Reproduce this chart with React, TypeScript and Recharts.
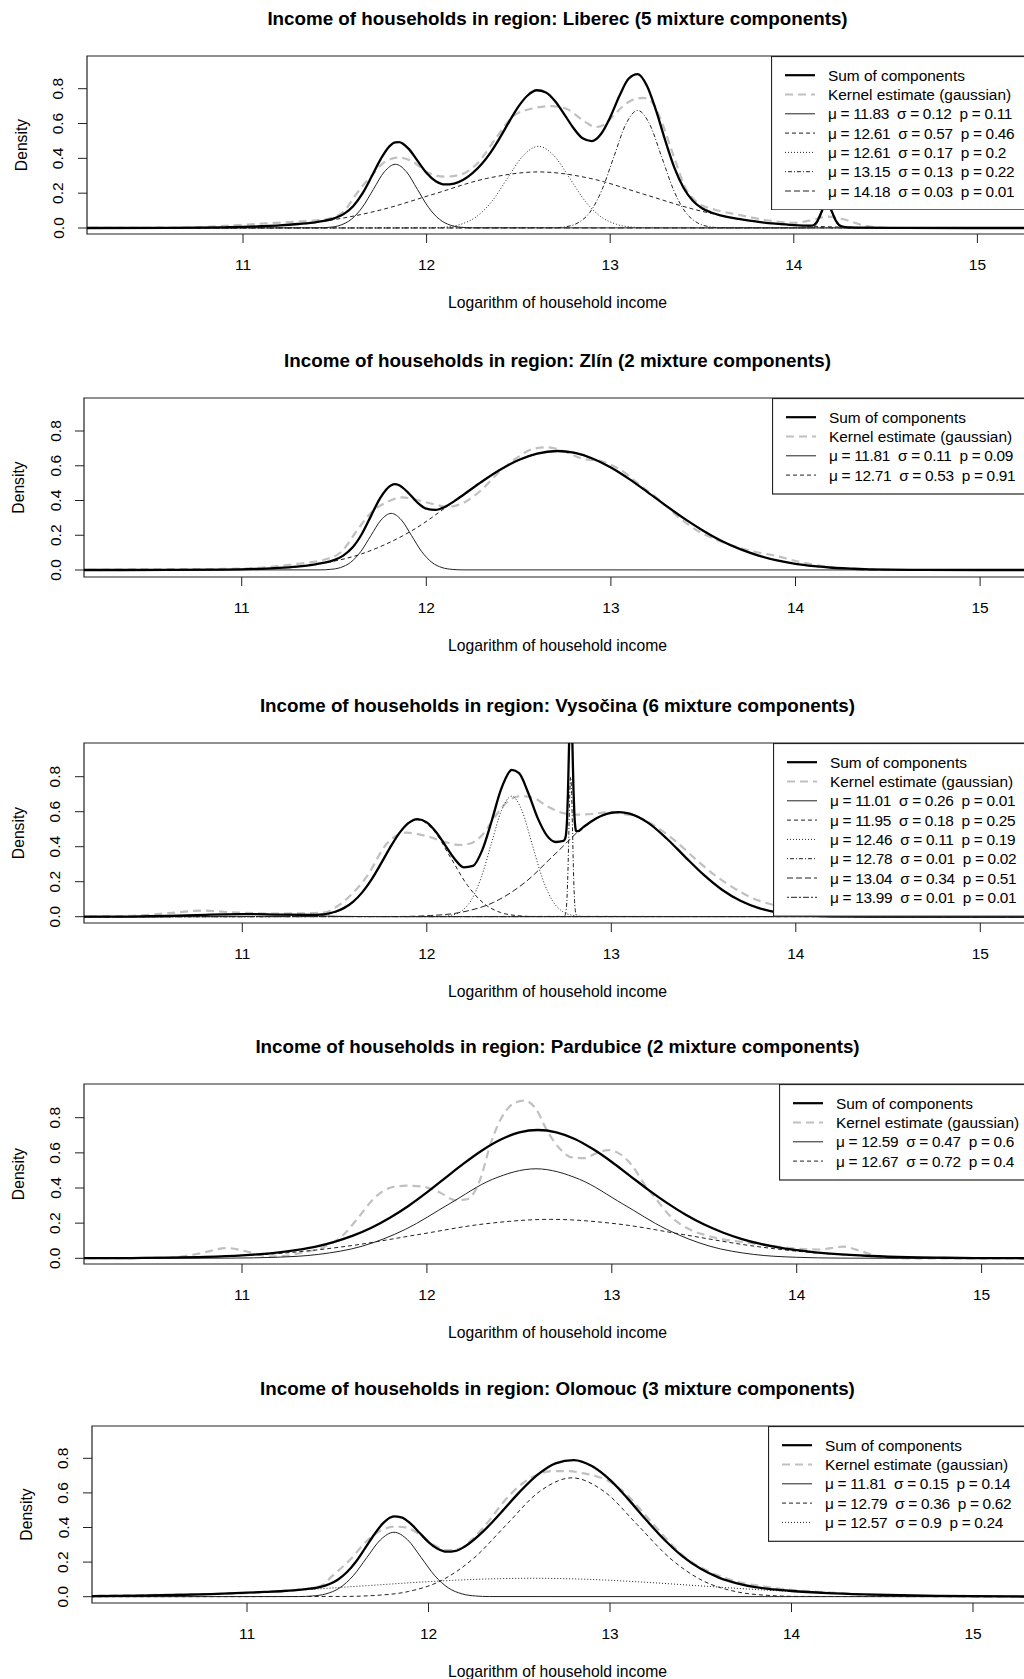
import React from 'react';
import { LineChart, Line, XAxis, YAxis, ReferenceArea, Legend } from 'recharts';

// ---------- Liberec ----------
const liberecMu = [11.83, 12.61, 12.61, 13.15, 14.18];
const liberecSigma = [0.12, 0.57, 0.17, 0.13, 0.03];
const liberecP = [0.11, 0.46, 0.2, 0.22, 0.01];
const liberecSumX = [10.1, 10.6, 10.9, 11.0, 11.1, 11.2, 11.3, 11.4, 11.5, 11.55, 11.6, 11.65, 11.7, 11.75, 11.8, 11.83, 11.85, 11.9, 11.95, 12.0, 12.05, 12.1, 12.15, 12.2, 12.25, 12.3, 12.35, 12.4, 12.45, 12.5, 12.55, 12.6, 12.65, 12.7, 12.75, 12.8, 12.85, 12.9, 12.95, 13.0, 13.05, 13.1, 13.15, 13.2, 13.25, 13.3, 13.35, 13.4, 13.45, 13.5, 13.55, 13.6, 13.65, 13.7, 13.8, 13.9, 14.0, 14.1, 14.13, 14.15, 14.165, 14.18, 14.195, 14.21, 14.23, 14.26, 14.3, 14.4, 14.6, 15.0, 16.0];
const liberecSumY = [0, 0.001, 0.004, 0.006, 0.010, 0.015, 0.023, 0.034, 0.057, 0.081, 0.125, 0.197, 0.294, 0.396, 0.472, 0.492, 0.493, 0.457, 0.387, 0.316, 0.269, 0.250, 0.255, 0.277, 0.315, 0.367, 0.436, 0.520, 0.611, 0.697, 0.761, 0.791, 0.778, 0.728, 0.653, 0.574, 0.515, 0.499, 0.540, 0.636, 0.758, 0.857, 0.884, 0.817, 0.674, 0.502, 0.345, 0.230, 0.156, 0.113, 0.089, 0.073, 0.061, 0.052, 0.036, 0.025, 0.017, 0.014, 0.043, 0.090, 0.126, 0.141, 0.125, 0.088, 0.040, 0.010, 0.004, 0.002, 0.001, 0, 0];
const liberecKdeX = [10.1, 10.7, 10.9, 11.1, 11.3, 11.45, 11.55, 11.6, 11.65, 11.7, 11.78, 11.85, 11.93, 12.0, 12.1, 12.18, 12.28, 12.38, 12.47, 12.57, 12.68, 12.76, 12.87, 12.92, 12.97, 13.03, 13.11, 13.18, 13.23, 13.28, 13.35, 13.41, 13.47, 13.57, 13.68, 13.78, 13.9, 14.0, 14.1, 14.18, 14.27, 14.38, 14.47, 14.6, 16.0];
const liberecKdeY = [0, 0.003, 0.012, 0.025, 0.037, 0.05, 0.095, 0.17, 0.24, 0.30, 0.385, 0.404, 0.378, 0.322, 0.295, 0.305, 0.375, 0.52, 0.64, 0.685, 0.70, 0.685, 0.605, 0.58, 0.595, 0.66, 0.73, 0.747, 0.72, 0.61, 0.40, 0.23, 0.15, 0.105, 0.08, 0.058, 0.038, 0.03, 0.045, 0.065, 0.05, 0.015, 0.002, 0, 0];
const liberecC1X = [10.1, 11.41, 11.47, 11.53, 11.59, 11.65, 11.71, 11.77, 11.83, 11.89, 11.95, 12.01, 12.07, 12.13, 12.19, 12.25, 16];
const liberecC1Y = [0, 0.001, 0.004, 0.016, 0.050, 0.119, 0.222, 0.323, 0.366, 0.323, 0.222, 0.119, 0.050, 0.016, 0.004, 0.001, 0];
const liberecC2X = [10.1, 10.615, 10.9, 11.185, 11.47, 11.755, 12.04, 12.325, 12.61, 12.895, 13.18, 13.465, 13.75, 14.035, 14.32, 14.605, 16];
const liberecC2Y = [0, 0.001, 0.004, 0.014, 0.044, 0.105, 0.195, 0.284, 0.322, 0.284, 0.195, 0.105, 0.044, 0.014, 0.004, 0.001, 0];
const liberecC3X = [10.1, 12.015, 12.1, 12.185, 12.27, 12.355, 12.44, 12.525, 12.61, 12.695, 12.78, 12.865, 12.95, 13.035, 13.12, 13.205, 16];
const liberecC3Y = [0, 0.001, 0.005, 0.021, 0.064, 0.152, 0.285, 0.414, 0.469, 0.414, 0.285, 0.152, 0.064, 0.021, 0.005, 0.001, 0];
const liberecC4X = [10.1, 12.695, 12.76, 12.825, 12.89, 12.955, 13.02, 13.085, 13.15, 13.215, 13.28, 13.345, 13.41, 13.475, 13.54, 13.605, 16];
const liberecC4Y = [0, 0.0015, 0.0075, 0.030, 0.091, 0.219, 0.409, 0.596, 0.675, 0.596, 0.409, 0.219, 0.091, 0.030, 0.0075, 0.0015, 0];
const liberecC5X = [10.1, 14.075, 14.09, 14.105, 14.12, 14.135, 14.15, 14.165, 14.18, 14.195, 14.21, 14.225, 14.24, 14.255, 14.27, 14.285, 16];
const liberecC5Y = [0, 0.0003, 0.0015, 0.006, 0.018, 0.043, 0.081, 0.117, 0.133, 0.117, 0.081, 0.043, 0.018, 0.006, 0.0015, 0.0003, 0];

// ---------- Zlín ----------
const zlinMu = [11.81, 12.71];
const zlinSigma = [0.11, 0.53];
const zlinP = [0.09, 0.91];
const zlinSumX = [10.1, 10.6, 10.9, 11.1, 11.2, 11.3, 11.4, 11.45, 11.5, 11.55, 11.6, 11.65, 11.7, 11.75, 11.81, 11.83, 11.85, 11.9, 11.95, 12.0, 12.05, 12.1, 12.15, 12.2, 12.3, 12.4, 12.5, 12.6, 12.71, 12.8, 12.9, 13.0, 13.1, 13.2, 13.3, 13.4, 13.5, 13.6, 13.7, 13.8, 13.9, 14.0, 14.1, 14.2, 14.3, 14.4, 14.5, 14.7, 15.0, 16.0];
const zlinSumY = [0, 0.0002, 0.002, 0.007, 0.012, 0.020, 0.033, 0.042, 0.057, 0.083, 0.129, 0.206, 0.310, 0.414, 0.488, 0.494, 0.489, 0.447, 0.390, 0.353, 0.346, 0.363, 0.395, 0.432, 0.508, 0.577, 0.633, 0.670, 0.685, 0.675, 0.642, 0.590, 0.523, 0.447, 0.369, 0.294, 0.226, 0.167, 0.120, 0.083, 0.055, 0.035, 0.022, 0.013, 0.008, 0.004, 0.002, 0.0006, 0, 0];
const zlinKdeX = [10.1, 10.5, 10.9, 11.1, 11.3, 11.45, 11.54, 11.62, 11.70, 11.785, 11.87, 11.95, 12.035, 12.12, 12.2, 12.3, 12.39, 12.49, 12.59, 12.66, 12.74, 12.84, 12.95, 13.05, 13.15, 13.26, 13.36, 13.46, 13.57, 13.67, 13.78, 13.9, 14.0, 14.1, 14.2, 14.3, 14.4, 14.6, 16.0];
const zlinKdeY = [0, 0.004, 0.006, 0.013, 0.035, 0.06, 0.105, 0.22, 0.33, 0.39, 0.418, 0.403, 0.38, 0.364, 0.386, 0.462, 0.558, 0.645, 0.70, 0.706, 0.685, 0.642, 0.625, 0.578, 0.495, 0.405, 0.31, 0.232, 0.175, 0.136, 0.105, 0.08, 0.052, 0.03, 0.015, 0.005, 0.001, 0, 0];
const zlinC1X = [10.1, 11.425, 11.48, 11.535, 11.59, 11.645, 11.70, 11.755, 11.81, 11.865, 11.92, 11.975, 12.03, 12.085, 12.14, 12.195, 16];
const zlinC1Y = [0, 0.0007, 0.0036, 0.014, 0.044, 0.106, 0.198, 0.288, 0.326, 0.288, 0.198, 0.106, 0.044, 0.014, 0.0036, 0.0007, 0];
const zlinC2X = [10.1, 10.59, 10.855, 11.12, 11.385, 11.65, 11.915, 12.18, 12.445, 12.71, 12.975, 13.24, 13.505, 13.77, 14.035, 14.30, 14.565, 14.83, 16];
const zlinC2Y = [0, 0.0002, 0.0015, 0.0076, 0.030, 0.093, 0.222, 0.416, 0.605, 0.685, 0.605, 0.416, 0.222, 0.093, 0.030, 0.0076, 0.0015, 0.0002, 0];

// ---------- Vysočina ----------
const vysocinaMu = [11.01, 11.95, 12.46, 12.78, 13.04, 13.99];
const vysocinaSigma = [0.26, 0.18, 0.11, 0.01, 0.34, 0.01];
const vysocinaP = [0.01, 0.25, 0.19, 0.02, 0.51, 0.01];
const vysocinaSumX = [10.1, 10.4, 10.6, 10.8, 11.0, 11.2, 11.4, 11.5, 11.55, 11.6, 11.65, 11.7, 11.75, 11.8, 11.85, 11.9, 11.95, 12.0, 12.05, 12.1, 12.15, 12.2, 12.25, 12.3, 12.35, 12.4, 12.45, 12.46, 12.5, 12.55, 12.6, 12.65, 12.7, 12.74, 12.75, 12.755, 12.76, 12.765, 12.77, 12.775, 12.78, 12.785, 12.79, 12.795, 12.8, 12.805, 12.81, 12.82, 12.85, 12.9, 12.95, 13.0, 13.04, 13.1, 13.2, 13.3, 13.4, 13.5, 13.6, 13.7, 13.8, 13.9, 13.95, 13.97, 13.975, 13.98, 13.985, 13.99, 13.995, 14.0, 14.005, 14.01, 14.03, 14.1, 14.2, 14.4, 15.0, 16.0];
const vysocinaSumY = [0, 0.001, 0.004, 0.011, 0.015, 0.012, 0.010, 0.027, 0.049, 0.085, 0.139, 0.212, 0.300, 0.393, 0.476, 0.535, 0.558, 0.539, 0.484, 0.408, 0.331, 0.282, 0.290, 0.379, 0.541, 0.720, 0.831, 0.839, 0.820, 0.707, 0.566, 0.465, 0.427, 0.433, 0.446, 0.475, 0.551, 0.705, 0.934, 1.157, 1.255, 1.165, 0.948, 0.727, 0.580, 0.511, 0.489, 0.489, 0.513, 0.550, 0.578, 0.594, 0.598, 0.589, 0.536, 0.447, 0.342, 0.240, 0.154, 0.091, 0.049, 0.024, 0.017, 0.068, 0.143, 0.255, 0.365, 0.411, 0.364, 0.253, 0.140, 0.064, 0.009, 0.005, 0.002, 0.0002, 0, 0];
const vysocinaKdeX = [10.1, 10.4, 10.6, 10.78, 10.95, 11.15, 11.35, 11.45, 11.5, 11.59, 11.675, 11.785, 11.89, 12.0, 12.09, 12.18, 12.24, 12.31, 12.37, 12.45, 12.51, 12.58, 12.655, 12.74, 12.81, 12.895, 12.98, 13.05, 13.135, 13.24, 13.35, 13.46, 13.57, 13.68, 13.79, 13.87, 14.0, 14.2, 14.5, 16.0];
const vysocinaKdeY = [0, 0.005, 0.02, 0.035, 0.025, 0.018, 0.02, 0.025, 0.05, 0.125, 0.23, 0.42, 0.48, 0.46, 0.43, 0.41, 0.42, 0.478, 0.573, 0.668, 0.69, 0.678, 0.63, 0.592, 0.583, 0.587, 0.596, 0.589, 0.573, 0.516, 0.43, 0.326, 0.23, 0.154, 0.095, 0.07, 0.04, 0.01, 0, 0];
const vysocinaC1X = [10.1, 10.23, 10.36, 10.49, 10.62, 10.75, 10.88, 11.01, 11.14, 11.27, 11.40, 11.53, 11.66, 11.79, 11.92, 16];
const vysocinaC1Y = [0, 0.0002, 0.0007, 0.0021, 0.0050, 0.0093, 0.0135, 0.0153, 0.0135, 0.0093, 0.0050, 0.0021, 0.0007, 0.0002, 0, 0];
const vysocinaC2X = [10.1, 11.32, 11.41, 11.50, 11.59, 11.68, 11.77, 11.86, 11.95, 12.04, 12.13, 12.22, 12.31, 12.40, 12.49, 12.58, 16];
const vysocinaC2Y = [0, 0.0012, 0.0062, 0.024, 0.075, 0.180, 0.336, 0.489, 0.554, 0.489, 0.336, 0.180, 0.075, 0.024, 0.0062, 0.0012, 0];
const vysocinaC3X = [10.1, 12.075, 12.13, 12.185, 12.24, 12.295, 12.35, 12.405, 12.46, 12.515, 12.57, 12.625, 12.68, 12.735, 12.79, 12.845, 16];
const vysocinaC3Y = [0, 0.0015, 0.0076, 0.030, 0.093, 0.224, 0.418, 0.608, 0.689, 0.608, 0.418, 0.224, 0.093, 0.030, 0.0076, 0.0015, 0];
const vysocinaC4X = [10.1, 12.745, 12.75, 12.755, 12.76, 12.765, 12.77, 12.775, 12.78, 12.785, 12.79, 12.795, 12.80, 12.805, 12.81, 12.815, 16];
const vysocinaC4Y = [0, 0.0018, 0.0089, 0.035, 0.108, 0.259, 0.484, 0.704, 0.798, 0.704, 0.484, 0.259, 0.108, 0.035, 0.0089, 0.0018, 0];
const vysocinaC5X = [10.1, 11.85, 12.02, 12.19, 12.36, 12.53, 12.70, 12.87, 13.04, 13.21, 13.38, 13.55, 13.72, 13.89, 14.06, 14.23, 16];
const vysocinaC5Y = [0, 0.0013, 0.0066, 0.026, 0.081, 0.194, 0.363, 0.528, 0.598, 0.528, 0.363, 0.194, 0.081, 0.026, 0.0066, 0.0013, 0];
const vysocinaC6X = [10.1, 13.955, 13.96, 13.965, 13.97, 13.975, 13.98, 13.985, 13.99, 13.995, 14.0, 14.005, 14.01, 14.015, 14.02, 14.025, 16];
const vysocinaC6Y = [0, 0.0009, 0.0044, 0.0175, 0.054, 0.1295, 0.242, 0.352, 0.399, 0.352, 0.242, 0.1295, 0.054, 0.0175, 0.0044, 0.0009, 0];

// ---------- Pardubice ----------
const pardubiceMu = [12.59, 12.67];
const pardubiceSigma = [0.47, 0.72];
const pardubiceP = [0.6, 0.4];
const pardubiceSumX = [10.1, 10.4, 10.6, 10.8, 11.0, 11.1, 11.2, 11.3, 11.4, 11.5, 11.6, 11.7, 11.8, 11.9, 12.0, 12.1, 12.2, 12.3, 12.4, 12.5, 12.6, 12.7, 12.8, 12.9, 13.0, 13.1, 13.2, 13.3, 13.4, 13.5, 13.6, 13.7, 13.8, 13.9, 14.0, 14.1, 14.2, 14.4, 14.6, 14.8, 15.0, 15.4, 16.0];
const pardubiceSumY = [0.0004, 0.0015, 0.0037, 0.008, 0.0167, 0.0238, 0.034, 0.048, 0.067, 0.094, 0.129, 0.174, 0.231, 0.298, 0.375, 0.458, 0.540, 0.615, 0.676, 0.716, 0.730, 0.717, 0.679, 0.620, 0.548, 0.468, 0.388, 0.314, 0.248, 0.192, 0.147, 0.111, 0.083, 0.062, 0.046, 0.034, 0.025, 0.013, 0.006, 0.003, 0.001, 0.0002, 0];
const pardubiceKdeX = [10.1, 10.6, 10.76, 10.92, 11.045, 11.15, 11.25, 11.33, 11.44, 11.545, 11.63, 11.72, 11.81, 11.89, 11.98, 12.07, 12.155, 12.22, 12.285, 12.35, 12.415, 12.48, 12.53, 12.59, 12.65, 12.72, 12.785, 12.85, 12.915, 12.98, 13.045, 13.11, 13.175, 13.24, 13.305, 13.37, 13.435, 13.5, 13.59, 13.72, 13.85, 14.0, 14.12, 14.25, 14.35, 14.45, 14.6, 16.0];
const pardubiceKdeY = [0, 0.003, 0.025, 0.058, 0.034, 0.01, 0.015, 0.034, 0.062, 0.13, 0.233, 0.347, 0.404, 0.413, 0.407, 0.375, 0.33, 0.337, 0.44, 0.67, 0.82, 0.887, 0.897, 0.85, 0.726, 0.622, 0.574, 0.57, 0.597, 0.616, 0.593, 0.527, 0.423, 0.337, 0.252, 0.195, 0.157, 0.134, 0.11, 0.091, 0.072, 0.055, 0.05, 0.066, 0.04, 0.008, 0, 0];
const pardubiceC1X = [10.1, 10.71, 10.945, 11.18, 11.415, 11.65, 11.885, 12.12, 12.355, 12.59, 12.825, 13.06, 13.295, 13.53, 13.765, 14.0, 14.235, 14.47, 16];
const pardubiceC1Y = [0, 0.0002, 0.0011, 0.0057, 0.0224, 0.0689, 0.1654, 0.3089, 0.4495, 0.5093, 0.4495, 0.3089, 0.1654, 0.0689, 0.0224, 0.0057, 0.0011, 0.0002, 0];
const pardubiceC2X = [10.1, 10.15, 10.51, 10.87, 11.23, 11.59, 11.95, 12.31, 12.67, 13.03, 13.39, 13.75, 14.11, 14.47, 14.83, 15.19, 15.55, 16];
const pardubiceC2Y = [0.0004, 0.0005, 0.0025, 0.0097, 0.0300, 0.0720, 0.1344, 0.1956, 0.2216, 0.1956, 0.1344, 0.0720, 0.0300, 0.0097, 0.0025, 0.0005, 0.0001, 0];

// ---------- Olomouc ----------
const olomoucMu = [11.81, 12.79, 12.57];
const olomoucSigma = [0.15, 0.36, 0.9];
const olomoucP = [0.14, 0.62, 0.24];
const olomoucSumX = [10.1, 10.4, 10.6, 10.8, 11.0, 11.1, 11.2, 11.3, 11.4, 11.5, 11.55, 11.6, 11.65, 11.7, 11.75, 11.81, 11.85, 11.9, 11.95, 12.0, 12.05, 12.1, 12.15, 12.2, 12.3, 12.4, 12.5, 12.6, 12.7, 12.8, 12.9, 13.0, 13.1, 13.2, 13.3, 13.4, 13.5, 13.6, 13.7, 13.8, 13.9, 14.0, 14.2, 14.4, 14.6, 14.8, 15.0, 15.3, 16.0];
const olomoucSumY = [0.0026, 0.0058, 0.0097, 0.0154, 0.023, 0.028, 0.033, 0.041, 0.055, 0.098, 0.141, 0.202, 0.279, 0.358, 0.425, 0.464, 0.459, 0.424, 0.370, 0.316, 0.277, 0.260, 0.265, 0.290, 0.376, 0.487, 0.603, 0.704, 0.771, 0.790, 0.755, 0.675, 0.564, 0.443, 0.329, 0.233, 0.161, 0.110, 0.077, 0.055, 0.042, 0.033, 0.021, 0.0135, 0.0084, 0.0049, 0.0028, 0.0011, 0.0001];
const olomoucKdeX = [10.1, 10.5, 10.8, 11.0, 11.2, 11.35, 11.42, 11.46, 11.57, 11.66, 11.75, 11.815, 11.88, 11.95, 12.015, 12.10, 12.17, 12.24, 12.325, 12.41, 12.50, 12.59, 12.68, 12.77, 12.855, 12.92, 13.01, 13.10, 13.19, 13.28, 13.365, 13.454, 13.54, 13.63, 13.72, 13.83, 13.92, 14.05, 14.2, 14.35, 14.5, 14.7, 15.0, 16.0];
const olomoucKdeY = [0.004, 0.01, 0.015, 0.02, 0.033, 0.048, 0.07, 0.11, 0.216, 0.322, 0.389, 0.405, 0.399, 0.36, 0.308, 0.27, 0.277, 0.331, 0.428, 0.543, 0.64, 0.70, 0.726, 0.726, 0.713, 0.698, 0.659, 0.582, 0.476, 0.37, 0.274, 0.197, 0.148, 0.11, 0.081, 0.062, 0.048, 0.035, 0.025, 0.015, 0.006, 0.003, 0.001, 0];
const olomoucC1X = [10.1, 11.285, 11.36, 11.435, 11.51, 11.585, 11.66, 11.735, 11.81, 11.885, 11.96, 12.035, 12.11, 12.185, 12.26, 12.335, 16];
const olomoucC1Y = [0, 0.0008, 0.0041, 0.0163, 0.0504, 0.1209, 0.2259, 0.3286, 0.3724, 0.3286, 0.2259, 0.1209, 0.0504, 0.0163, 0.0041, 0.0008, 0];
const olomoucC2X = [10.1, 11.53, 11.71, 11.89, 12.07, 12.25, 12.43, 12.61, 12.79, 12.97, 13.15, 13.33, 13.51, 13.69, 13.87, 14.05, 16];
const olomoucC2Y = [0, 0.0015, 0.0076, 0.0302, 0.0930, 0.2231, 0.4167, 0.6064, 0.6871, 0.6064, 0.4167, 0.2231, 0.0930, 0.0302, 0.0076, 0.0015, 0];
const olomoucC3X = [10.1, 10.17, 10.47, 10.77, 11.07, 11.37, 11.67, 11.97, 12.27, 12.57, 12.87, 13.17, 13.47, 13.77, 14.07, 14.37, 14.67, 14.97, 15.27, 16];
const olomoucC3Y = [0.0026, 0.0030, 0.0070, 0.0144, 0.0265, 0.0437, 0.0645, 0.0852, 0.1007, 0.1064, 0.1007, 0.0852, 0.0645, 0.0437, 0.0265, 0.0144, 0.0070, 0.0030, 0.0012, 0.0001];

const xTicks = [11, 12, 13, 14, 15];
const yTicks = [0, 0.2, 0.4, 0.6, 0.8];

// layout of each panel, measured in page pixels
const PANELS = [
  {
    region: 'Liberec', mu: liberecMu, sigma: liberecSigma, p: liberecP,
    sum: [liberecSumX, liberecSumY], kde: [liberecKdeX, liberecKdeY],
    comps: [[liberecC1X, liberecC1Y], [liberecC2X, liberecC2Y], [liberecC3X, liberecC3Y], [liberecC4X, liberecC4Y], [liberecC5X, liberecC5Y]],
    layout: { boxLeft: 87, boxTop: 56, boxBottom: 234, x11: 243, ppu: 183.6, y0: 228, y08: 88.7, legendLeft: 771 },
  },
  {
    region: 'Zlín', mu: zlinMu, sigma: zlinSigma, p: zlinP,
    sum: [zlinSumX, zlinSumY], kde: [zlinKdeX, zlinKdeY],
    comps: [[zlinC1X, zlinC1Y], [zlinC2X, zlinC2Y]],
    layout: { boxLeft: 84, boxTop: 398, boxBottom: 577, x11: 241.7, ppu: 184.6, y0: 570, y08: 431, legendLeft: 772 },
  },
  {
    region: 'Vysočina', mu: vysocinaMu, sigma: vysocinaSigma, p: vysocinaP,
    sum: [vysocinaSumX, vysocinaSumY], kde: [vysocinaKdeX, vysocinaKdeY],
    comps: [[vysocinaC1X, vysocinaC1Y], [vysocinaC2X, vysocinaC2Y], [vysocinaC3X, vysocinaC3Y], [vysocinaC4X, vysocinaC4Y], [vysocinaC5X, vysocinaC5Y], [vysocinaC6X, vysocinaC6Y]],
    layout: { boxLeft: 84, boxTop: 743, boxBottom: 923, x11: 242.3, ppu: 184.5, y0: 916.7, y08: 776.7, legendLeft: 773 },
  },
  {
    region: 'Pardubice', mu: pardubiceMu, sigma: pardubiceSigma, p: pardubiceP,
    sum: [pardubiceSumX, pardubiceSumY], kde: [pardubiceKdeX, pardubiceKdeY],
    comps: [[pardubiceC1X, pardubiceC1Y], [pardubiceC2X, pardubiceC2Y]],
    layout: { boxLeft: 84, boxTop: 1084, boxBottom: 1264, x11: 242, ppu: 184.9, y0: 1258.3, y08: 1117.7, legendLeft: 779 },
  },
  {
    region: 'Olomouc', mu: olomoucMu, sigma: olomoucSigma, p: olomoucP,
    sum: [olomoucSumX, olomoucSumY], kde: [olomoucKdeX, olomoucKdeY],
    comps: [[olomoucC1X, olomoucC1Y], [olomoucC2X, olomoucC2Y], [olomoucC3X, olomoucC3Y]],
    layout: { boxLeft: 92, boxTop: 1426, boxBottom: 1603, x11: 247, ppu: 181.5, y0: 1596.7, y08: 1458.3, legendLeft: 767.5 },
  },
];

const FONT = '"Liberation Sans", Arial, Helvetica, sans-serif';
const CHART_W = 1300;
const TOP_PAD = 50;
const AXIS_H = 95;
const ROW_H = 19.3;
const KDE_COLOR = '#c0c0c0';
const COMP_COLOR = '#222';
// R line types 1..6
const COMP_DASH = [undefined, '4 3', '1 2', '1 2 4 2', '6 3', '2 2 6 2'];

const zip = (xs: number[], ys: number[]) => xs.map((x, i) => ({ x, y: ys[i] }));

function LegendBox({ labels }: { labels: string[] }) {
  const rows = [
    { label: 'Sum of components', stroke: '#000', width: 2.2, dash: undefined as string | undefined, math: false },
    { label: 'Kernel estimate (gaussian)', stroke: KDE_COLOR, width: 2.2, dash: '8 5', math: false },
    ...labels.map((l, i) => ({ label: l, stroke: COMP_COLOR, width: 1, dash: COMP_DASH[i], math: true })),
  ];
  const h = (rows.length + 1) * ROW_H;
  return (
    <svg width={330} height={h} style={{ display: 'block' }}>
      <rect x={0.5} y={0.5} width={360} height={h - 1} fill="#fff" stroke="#222" strokeWidth={1.2} />
      {rows.map((r, i) => {
        const cy = 19.2 + i * ROW_H;
        return (
          <g key={i}>
            <line x1={14} x2={44} y1={cy} y2={cy} stroke={r.stroke} strokeWidth={r.width} strokeDasharray={r.dash} />
            <text x={57} y={cy} dominantBaseline="central" fontSize={15.4} fill="#000"
              letterSpacing={r.math ? -0.3 : 0} style={{ whiteSpace: 'pre' }}>{r.label}</text>
          </g>
        );
      })}
    </svg>
  );
}

function Panel({ def }: { def: any }) {
  const L = def.layout;
  const plotH = L.boxBottom - L.boxTop;
  const chartH = TOP_PAD + plotH + AXIS_H;
  const xMin = 11 - (L.x11 - L.boxLeft) / L.ppu;
  const xMax = 11 + (CHART_W - L.x11) / L.ppu;
  const ypu = (L.y0 - L.y08) / 0.8;
  const yMax = (L.y0 - L.boxTop) / ypu;
  const yMin = -(L.boxBottom - L.y0) / ypu;
  const bottom = TOP_PAD + plotH;
  const labels = def.mu.map((m: number, i: number) => `μ = ${m}  σ = ${def.sigma[i]}  p = ${def.p[i]}`);
  const title = `Income of households in region: ${def.region} (${def.mu.length} mixture components)`;

  return (
    <>
      <div style={{ position: 'absolute', left: 0, top: L.boxTop - 49.5, width: 1115, textAlign: 'center', fontWeight: 'bold', fontSize: 18.8, lineHeight: '24px' }}>
        {title}
      </div>
      <div style={{ position: 'absolute', left: 0, top: L.boxTop - TOP_PAD }}>
        <LineChart width={CHART_W} height={chartH} margin={{ top: TOP_PAD, right: 0, bottom: 0, left: 0 }}>
          <XAxis
            type="number" dataKey="x" domain={[xMin, xMax]} allowDataOverflow ticks={xTicks}
            height={AXIS_H} axisLine={false} tickSize={9} tickLine={{ stroke: '#222' }}
            tick={(t: any) => (
              <text x={t.x} y={bottom + 30.5} textAnchor="middle" dominantBaseline="central" fontSize={15.5} fill="#000">
                {t.payload.value}
              </text>
            )}
            label={() => (
              <text x={557.5} y={bottom + 68} textAnchor="middle" dominantBaseline="central" fontSize={15.7} fill="#000">
                Logarithm of household income
              </text>
            )}
          />
          <YAxis
            type="number" domain={[yMin, yMax]} allowDataOverflow ticks={yTicks}
            width={L.boxLeft} axisLine={false} tickSize={9} tickLine={{ stroke: '#222' }}
            tick={(t: any) => {
              const cx = L.boxLeft - 29;
              return (
                <text x={cx} y={t.y} transform={`rotate(-90 ${cx} ${t.y})`} textAnchor="middle" dominantBaseline="central" fontSize={15.5} fill="#000">
                  {Number(t.payload.value).toFixed(1)}
                </text>
              );
            }}
            label={() => {
              const cx = L.boxLeft - 66;
              const cy = TOP_PAD + plotH / 2;
              return (
                <text x={cx} y={cy} transform={`rotate(-90 ${cx} ${cy})`} textAnchor="middle" dominantBaseline="central" fontSize={15.7} fill="#000">
                  Density
                </text>
              );
            }}
          />
          <ReferenceArea x1={xMin} x2={xMax} y1={yMin} y2={yMax} fill="none" fillOpacity={0} stroke="#222" strokeWidth={1.2} ifOverflow="visible" />
          <Line data={zip(def.kde[0], def.kde[1])} dataKey="y" type="monotone" stroke={KDE_COLOR} strokeWidth={2.2}
            strokeDasharray="8 5" dot={false} activeDot={false} isAnimationActive={false} />
          {def.comps.map((c: number[][], i: number) => (
            <Line key={i} data={zip(c[0], c[1])} dataKey="y" type="monotone" stroke={COMP_COLOR} strokeWidth={1}
              strokeDasharray={COMP_DASH[i]} dot={false} activeDot={false} isAnimationActive={false} />
          ))}
          <Line data={zip(def.sum[0], def.sum[1])} dataKey="y" type="monotone" stroke="#000" strokeWidth={2.3}
            dot={false} activeDot={false} isAnimationActive={false} />
          <Legend layout="horizontal" verticalAlign="middle" align="center"
            wrapperStyle={{ left: L.legendLeft, top: TOP_PAD, width: 330 }}
            content={() => <LegendBox labels={labels} />} />
        </LineChart>
      </div>
    </>
  );
}

export default function App() {
  return (
    <div style={{ position: 'absolute', left: 0, top: 0, width: 1024, height: 1679, overflow: 'hidden', background: '#fff', fontFamily: FONT, color: '#000' }}>
      {PANELS.map((d) => <Panel key={d.region} def={d} />)}
    </div>
  );
}
